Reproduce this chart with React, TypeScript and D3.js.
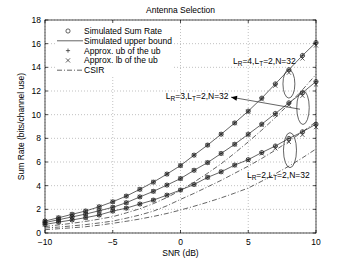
import * as d3 from "d3";

const snr = [-10, -9, -8, -7, -6, -5, -4, -3, -2, -1, 0, 1, 2, 3, 4, 5, 6, 7, 8, 9, 10];

// simulated sum rate (circles) / upper bound (solid) / approx ub of ub (+)
const rateLR4 = [1.01, 1.29, 1.58, 1.86, 2.22, 2.64, 3.12, 3.69, 4.3, 4.98, 5.7, 6.58, 7.43, 8.35, 9.3, 10.3, 11.4, 12.6, 13.8, 15.0, 16.1];
const rateLR3 = [0.88, 1.12, 1.36, 1.6, 1.88, 2.17, 2.56, 3.05, 3.52, 4.05, 4.6, 5.3, 5.95, 6.72, 7.5, 8.35, 9.2, 10.1, 11.0, 11.85, 12.8];
const rateLR2 = [0.72, 0.92, 1.1, 1.3, 1.52, 1.85, 2.1, 2.45, 2.78, 3.2, 3.63, 4.1, 4.7, 5.17, 5.74, 6.2, 6.8, 7.35, 7.99, 8.55, 9.2];

// approx. lb of the ub (x)
const lbLR4 = [1.01, 1.29, 1.58, 1.86, 2.22, 2.64, 3.12, 3.69, 4.3, 4.98, 5.7, 6.58, 7.43, 8.35, 9.28, 10.25, 11.3, 12.45, 13.55, 14.75, 15.85];
const lbLR3 = [0.88, 1.12, 1.36, 1.6, 1.88, 2.17, 2.56, 3.05, 3.52, 4.05, 4.6, 5.3, 5.95, 6.72, 7.48, 8.3, 9.12, 9.98, 10.8, 11.6, 12.55];
const lbLR2 = [0.72, 0.92, 1.1, 1.3, 1.52, 1.85, 2.1, 2.45, 2.78, 3.2, 3.63, 4.1, 4.7, 5.17, 5.72, 6.15, 6.72, 7.15, 7.7, 8.3, 8.95];

// CSIR (dash-dot)
const csirA = [0.55, 0.68, 0.82, 0.98, 1.17, 1.38, 1.7, 2.05, 2.48, 3.0, 3.6, 4.3, 5.05, 5.85, 6.75, 7.7, 8.7, 9.75, 10.9, 12.1, 13.4];
const csirB = [0.42, 0.5, 0.6, 0.71, 0.85, 1.01, 1.25, 1.52, 1.85, 2.3, 2.84, 3.35, 3.9, 4.45, 5.05, 5.65, 6.3, 7.0, 7.75, 8.55, 9.4];
const csirC = [0.28, 0.36, 0.44, 0.53, 0.66, 0.82, 0.99, 1.18, 1.4, 1.65, 1.94, 2.26, 2.6, 2.97, 3.37, 3.8, 4.38, 5.0, 5.65, 6.35, 7.1];

const xTicks = [-10, -5, 0, 5, 10];
const yTicks = [0, 2, 4, 6, 8, 10, 12, 14, 16, 18];

const legendItems = ["Simulated Sum Rate", "Simulated upper bound", "Approx. ub of the ub", "Approx. lb of the ub", "CSIR"];

// annotations in data units
const ellipses = [
  { snr: 8.0, rate: 12.6, w: 0.44, h: 1.2 },
  { snr: 9.04, rate: 10.6, w: 0.46, h: 1.43 },
  { snr: 8.08, rate: 7.0, w: 0.48, h: 1.48 },
];
const labels = [
  { snr: 3.87, rate: 14.26, r: "4", anchor: "start" },
  { snr: 3.55, rate: 11.3, r: "3", anchor: "end" },
  { snr: 4.9, rate: 4.62, r: "2", anchor: "start" },
];
const arrow = { from: [8.82, 10.46], to: [3.73, 11.48] };

const W = 349;
const H = 263;
const m = { left: 45, right: 33, top: 20, bottom: 30 };
const ink = "#222";
const font = "Liberation Sans, Arial, Helvetica, sans-serif";

export default function App() {
  const x = d3.scaleLinear().domain([-10, 10]).range([m.left, W - m.right]);
  const y = d3.scaleLinear().domain([0, 18]).range([H - m.bottom, m.top]);

  const line = (vals: number[]) =>
    d3.line<number>().x((_, i) => x(snr[i])).y((v) => y(v))(vals) ?? "";

  const rates = [rateLR4, rateLR3, rateLR2];
  const lbs = [lbLR4, lbLR3, lbLR2];
  const csirs = [csirA, csirB, csirC];
  const dashDot = "5,2,1,2";
  const ms = 2.1;

  const circle = (cx: number, cy: number, k: string) => (
    <circle key={k} cx={cx} cy={cy} r={ms} fill="none" stroke={ink} strokeWidth={0.7} />
  );
  const plus = (cx: number, cy: number, k: string) => (
    <path key={k} d={`M${cx - ms},${cy}H${cx + ms}M${cx},${cy - ms}V${cy + ms}`} stroke={ink} strokeWidth={0.7} />
  );
  const cross = (cx: number, cy: number, k: string) => (
    <path key={k} d={`M${cx - ms},${cy - ms}L${cx + ms},${cy + ms}M${cx - ms},${cy + ms}L${cx + ms},${cy - ms}`} stroke={ink} strokeWidth={0.7} />
  );

  const [x0, x1] = x.range();
  const [y0, y1] = y.range();

  const legX = 57;
  const legY = 31;
  const legDy = 9.8;

  const ax = x(arrow.to[0]);
  const ay = y(arrow.to[1]);
  const fx = x(arrow.from[0]);
  const fy = y(arrow.from[1]);
  const ang = Math.atan2(ay - fy, ax - fx);
  const hl = 6;
  const hw = 2.5;
  const head = [
    [ax, ay],
    [ax - hl * Math.cos(ang) + hw * Math.sin(ang), ay - hl * Math.sin(ang) - hw * Math.cos(ang)],
    [ax - hl * Math.cos(ang) - hw * Math.sin(ang), ay - hl * Math.sin(ang) + hw * Math.cos(ang)],
  ];

  return (
    <svg width={W} height={H} style={{ position: "absolute", left: 0, top: 0, background: "#fff" }} fontFamily={font}>
      <rect width={W} height={H} fill="#fff" />
      {/* grid */}
      {xTicks.map((t) => (
        <line key={"gx" + t} x1={x(t)} x2={x(t)} y1={y1} y2={y0} stroke="#999" strokeWidth={0.6} strokeDasharray="1,2" />
      ))}
      {yTicks.map((t) => (
        <line key={"gy" + t} x1={x0} x2={x1} y1={y(t)} y2={y(t)} stroke="#999" strokeWidth={0.6} strokeDasharray="1,2" />
      ))}

      {/* CSIR */}
      {csirs.map((c, i) => (
        <path key={"c" + i} d={line(c)} fill="none" stroke={ink} strokeWidth={0.7} strokeDasharray={dashDot} />
      ))}
      {/* upper bound lines */}
      {rates.map((r, i) => (
        <path key={"l" + i} d={line(r)} fill="none" stroke={ink} strokeWidth={0.7} />
      ))}
      {/* markers */}
      {rates.map((r, i) =>
        r.map((v, j) => (
          <g key={`m${i}-${j}`}>
            {circle(x(snr[j]), y(v), "o")}
            {plus(x(snr[j]), y(v), "p")}
            {cross(x(snr[j]), y(lbs[i][j]), "x")}
          </g>
        )),
      )}

      {/* annotations */}
      {ellipses.map((e, i) => (
        <ellipse
          key={"e" + i}
          cx={x(e.snr)}
          cy={y(e.rate)}
          rx={x(e.snr + e.w) - x(e.snr)}
          ry={y(e.rate) - y(e.rate + e.h)}
          fill="none"
          stroke={ink}
          strokeWidth={0.7}
        />
      ))}
      <line x1={fx} y1={fy} x2={ax} y2={ay} stroke={ink} strokeWidth={0.7} />
      <polygon points={head.map((p) => p.join(",")).join(" ")} fill="#000" />
      {labels.map((l, i) => (
        <text key={"t" + i} x={x(l.snr)} y={y(l.rate)} fontSize={8.5} textAnchor={l.anchor} fill="#000">
          L<tspan fontSize={6.5} dy={2}>R</tspan>
          <tspan dy={-2}>=</tspan>
          {l.r},L<tspan fontSize={6.5} dy={2}>T</tspan>
          <tspan dy={-2}>=2,N=32</tspan>
        </text>
      ))}

      {/* legend */}
      <rect x={55} y={23} width={118} height={53} fill="#fff" />
      {legendItems.map((t, i) => {
        const ly = legY + i * legDy;
        const mx = 68;
        return (
          <g key={"lg" + i}>
            {i === 0 && circle(mx, ly, "o")}
            {i === 1 && <line x1={legX} x2={legX + 26} y1={ly} y2={ly} stroke={ink} strokeWidth={0.7} />}
            {i === 2 && plus(mx, ly, "p")}
            {i === 3 && cross(mx, ly, "x")}
            {i === 4 && <line x1={legX} x2={legX + 26} y1={ly} y2={ly} stroke={ink} strokeWidth={0.7} strokeDasharray={dashDot} />}
            <text x={84} y={ly + 3} fontSize={8.5} fill="#000">
              {t}
            </text>
          </g>
        );
      })}

      {/* axes box */}
      <rect x={x0} y={y1} width={x1 - x0} height={y0 - y1} fill="none" stroke="#000" strokeWidth={0.7} />
      {xTicks.map((t) => (
        <g key={"tx" + t}>
          <line x1={x(t)} x2={x(t)} y1={y0} y2={y0 - 3} stroke="#000" strokeWidth={0.7} />
          <line x1={x(t)} x2={x(t)} y1={y1} y2={y1 + 3} stroke="#000" strokeWidth={0.7} />
          <text x={x(t)} y={y0 + 12} fontSize={8.5} textAnchor="middle" fill="#000">
            {t < 0 ? "\u2212" + Math.abs(t) : t}
          </text>
        </g>
      ))}
      {yTicks.map((t) => (
        <g key={"ty" + t}>
          <line x1={x0} x2={x0 + 3} y1={y(t)} y2={y(t)} stroke="#000" strokeWidth={0.7} />
          <line x1={x1} x2={x1 - 3} y1={y(t)} y2={y(t)} stroke="#000" strokeWidth={0.7} />
          <text x={x0 - 4} y={y(t) + 3} fontSize={8.5} textAnchor="end" fill="#000">
            {t}
          </text>
        </g>
      ))}

      {/* titles */}
      <text x={(x0 + x1) / 2} y={13} fontSize={8.5} textAnchor="middle" fill="#000">
        Antenna Selection
      </text>
      <text x={(x0 + x1) / 2} y={256} fontSize={8.5} textAnchor="middle" fill="#000">
        SNR (dB)
      </text>
      <text
        transform={`translate(${24},${(y0 + y1) / 2}) rotate(-90)`}
        fontSize={8.5}
        textAnchor="middle"
        fill="#000"
      >
        Sum Rate (bits/channel use)
      </text>
    </svg>
  );
}
